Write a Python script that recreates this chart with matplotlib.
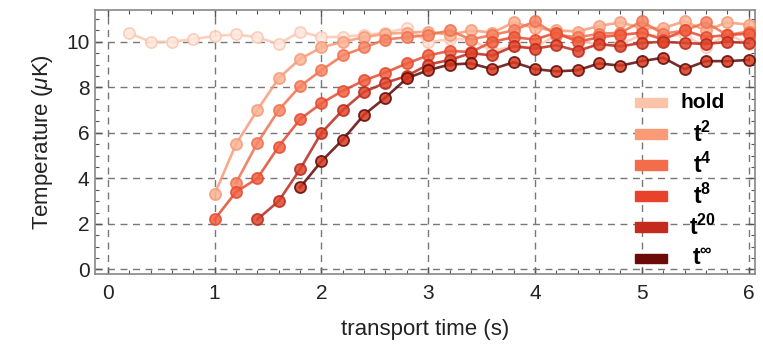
# -*- coding: utf-8 -*-
import numpy as np
import matplotlib
matplotlib.use('Agg')
import matplotlib.pyplot as plt
from matplotlib.patches import Rectangle
from matplotlib.ticker import MultipleLocator

plt.rcParams['font.family'] = ['Liberation Sans', 'DejaVu Sans']
plt.rcParams['mathtext.fontset'] = 'custom'
plt.rcParams['mathtext.rm'] = 'Liberation Sans'
plt.rcParams['mathtext.it'] = 'Liberation Sans:italic'
plt.rcParams['mathtext.bf'] = 'Liberation Sans:bold'

# temperatures after transport, sampled every 0.2 s
hold_t = np.arange(0.2, 6.01, 0.2)
hold_T = [10.38, 10.0, 10.0, 10.12, 10.25, 10.32, 10.2, 9.9, 10.45, 10.2,
          10.22, 10.3, 10.4, 10.6, 9.97, 10.12, 10.1, 9.6, 9.8, 9.75,
          10.3, 10.1, 9.85, 9.9, 10.3, 10.25, 10.3, 9.75, 10.35, 9.9]

t2_t = np.arange(1.0, 6.01, 0.2)
t2_T = [3.3, 5.5, 7.0, 8.4, 9.25, 9.75, 10.0, 10.2, 10.35, 10.4, 10.45,
        10.3, 10.5, 10.4, 10.85, 10.6, 10.5, 10.45, 10.7, 10.85, 10.6,
        10.6, 10.9, 10.5, 10.85, 10.75]

t4_t = np.arange(1.2, 6.01, 0.2)
t4_T = [3.8, 5.55, 7.0, 8.05, 8.75, 9.4, 9.75, 10.1, 10.2, 10.3,
        10.5, 10.1, 10.3, 10.5, 10.9, 10.3, 10.2, 10.35, 10.4, 10.9,
        10.35, 10.5, 10.85, 10.3, 10.45]

t8_t = np.arange(1.0, 6.01, 0.2)
t8_T = [2.2, 3.4, 4.0, 5.4, 6.6, 7.3, 7.85, 8.3, 8.65, 9.05, 9.4,
        9.6, 9.55, 10.0, 10.2, 10.1, 10.4, 10.0, 10.2, 10.3, 10.4,
        10.1, 10.5, 10.2, 10.3, 10.35]

t20_t = np.arange(1.4, 6.01, 0.2)
t20_T = [2.2, 3.0, 4.4, 6.0, 7.0, 7.8, 8.2, 8.5, 9.0, 9.2, 9.5, 9.4,
         9.8, 9.7, 9.85, 9.6, 9.9, 9.8, 9.95, 10.0, 9.95, 9.9, 10.0, 9.95]

tinf_t = np.arange(1.8, 6.01, 0.2)
tinf_T = [3.6, 4.75, 5.7, 6.8, 7.55, 8.4, 8.75, 9.0, 9.05, 8.8, 9.1,
          8.8, 8.7, 8.75, 9.05, 8.95, 9.15, 9.3, 8.8, 9.15, 9.15, 9.2]

labels = ['hold', r'$\mathbf{t^{2}}$', r'$\mathbf{t^{4}}$', r'$\mathbf{t^{8}}$',
          r'$\mathbf{t^{20}}$', r'$\mathbf{t^{\infty}}$']
line_colors = ['#fcc8b2', '#f89a78', '#f2704f', '#e54a30', '#b82a1c', '#5c0a08']
face_colors = ['#fde8de', '#fbb596', '#f58868', '#f0603f', '#e0452c', '#d8391f']
legend_colors = ['#fcc3a8', '#fa9a76', '#f46d4b', '#e8412c', '#c42a1e', '#6b0a06']

series = [(hold_t, hold_T), (t2_t, t2_T), (t4_t, t4_T),
          (t8_t, t8_T), (t20_t, t20_T), (tinf_t, tinf_T)]

fig = plt.figure(figsize=(7.63, 3.54), dpi=100)
ax = fig.add_axes([0.1245, 0.226, 0.865, 0.746])

for (x, y), lc, fc in zip(series, line_colors, face_colors):
    ax.plot(x, y, '-o', color=lc, lw=1.9, ms=8, mfc=fc, mec=lc, mew=1.3,
            alpha=0.85, zorder=3)

ax.set_xlim(-0.12, 6.06)
ax.set_ylim(-0.2, 11.4)
ax.xaxis.set_major_locator(MultipleLocator(1))
ax.xaxis.set_minor_locator(MultipleLocator(0.2))
ax.yaxis.set_major_locator(MultipleLocator(2))
ax.yaxis.set_minor_locator(MultipleLocator(0.5))
ax.tick_params(which='both', direction='in', top=True, right=True,
               color='#555555', labelsize=15, labelcolor='#222222')
ax.tick_params(which='major', length=5, width=1)
ax.tick_params(which='minor', length=3, width=0.8)
ax.tick_params(axis='x', pad=7)
ax.tick_params(axis='y', pad=4)
ax.grid(True, which='major', color='#777777', ls=(0, (5, 4)), lw=1.0, zorder=0)
for s in ax.spines.values():
    s.set_color('#888888')
    s.set_linewidth(1.2)

ax.set_xlabel('transport time (s)', fontsize=16, color='#222222', labelpad=12)
ax.set_ylabel('Temperature ($\\mu$K)', fontsize=16, color='#222222', labelpad=8)

# legend drawn as colored bars with centered bold labels
bar_x, bar_w, bar_h = 0.818, 0.0485, 0.035
text_x = 0.92
for i, (lab, col) in enumerate(zip(labels, legend_colors)):
    yc = 0.648 - i * 0.1176
    ax.add_patch(Rectangle((bar_x, yc - bar_h / 2), bar_w, bar_h,
                           transform=ax.transAxes, color=col, zorder=4))
    ax.text(text_x, yc, lab, transform=ax.transAxes,
            fontsize=15 if i == 0 else 16.5,
            fontweight='bold', ha='center', va='center', zorder=4)

fig.savefig('out.png', dpi=100)
